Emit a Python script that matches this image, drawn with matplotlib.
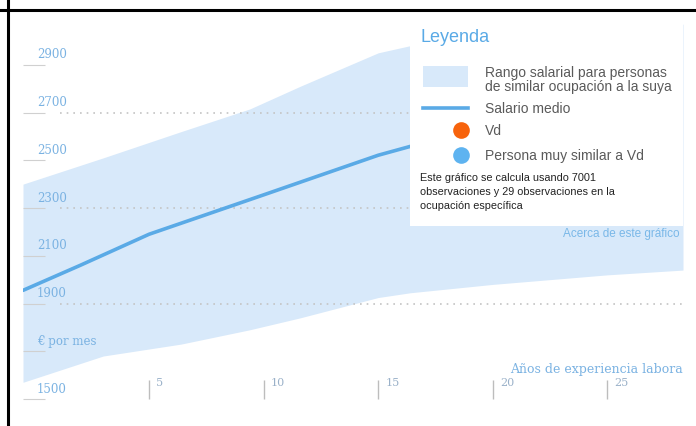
import numpy as np
import matplotlib
matplotlib.use("Agg")
import matplotlib.pyplot as plt
from matplotlib.patches import Rectangle
from matplotlib.lines import Line2D
from matplotlib.transforms import offset_copy

plt.rcParams['font.family'] = ['Liberation Sans', 'DejaVu Sans']

# years of experience and salary band (EUR per month)
years = [-0.5, 3, 6.4, 9.4, 11.6, 15, 16.4, 20, 25, 28.3]
upper = [2400, 2510, 2620, 2715, 2810, 2950, 2980, 3030, 3060, 3070]
lower = [1570, 1680, 1730, 1790, 1840, 1925, 1945, 1980, 2020, 2040]

mean_years = [-0.5, 2, 5, 10, 15, 16.4, 20, 25, 28.3]
mean_salary = [1955, 2060, 2190, 2355, 2521, 2558, 2620, 2680, 2700]

ytick_vals = [1500, 1700, 1900, 2100, 2300, 2500, 2700, 2900]
ytick_labels = ["1500", "€ por mes", "1900", "2100", "2300", "2500", "2700", "2900"]
grid_vals = [1900, 2300, 2700]
xtick_vals = [5, 10, 15, 20, 25]

band_c = "#d8e9fa"
line_c = "#5aaae6"
label_c = "#7ab2e2"

fig = plt.figure(figsize=(6.96, 4.27), dpi=100)
ax = fig.add_axes([23/696, 1 - 400/427, 660/696, 382/427])
ax.set_xlim(-0.5, 28.3)
ax.set_ylim(1500, 3100)
for s in ax.spines.values():
    s.set_visible(False)

ax.fill_between(years, lower, upper, color=band_c, lw=0, zorder=1)
for g in grid_vals:
    ax.axhline(g, xmin=0.056, color="#c4c4c4", ls=(0, (1, 3)), lw=1.2, zorder=2)
ax.plot(mean_years, mean_salary, color=line_c, lw=2.6, solid_capstyle='round', zorder=3)

# y axis: short ticks with labels sitting on top of them
ax.set_yticks(ytick_vals)
ax.tick_params(axis='y', direction='in', length=16, width=0.8, color="#d0d0d0", labelleft=False)
ax.set_xticks(xtick_vals)
ax.tick_params(axis='x', direction='in', length=14, width=1, color="#bdbdbd", labelbottom=False)
ytr = ax.get_yaxis_transform()
for v, l in zip(ytick_vals, ytick_labels):
    ax.text(0.021, v + 18, l, transform=ytr, fontsize=8.5, color=label_c,
            family=['DejaVu Serif'], va='bottom', ha='left', zorder=4)

xtr = offset_copy(ax.get_xaxis_transform(), fig=fig, x=7, y=0, units='dots')
for v in xtick_vals:
    ax.text(v, 0.045, str(v), transform=xtr, fontsize=8, color="#9ab1c9",
            family=['DejaVu Serif'], va='center', ha='left')

ax.text(0.738, 0.08, "Años de experiencia laboral", transform=ax.transAxes, fontsize=9,
        color=label_c, family=['DejaVu Serif'], va='center', ha='left', clip_on=True)

# legend box
ax.add_patch(Rectangle((0.586, 0.453), 0.414, 0.56, transform=ax.transAxes,
                       facecolor='white', edgecolor='none', zorder=5, clip_on=False))
ax.text(0.602, 0.948, "Leyenda", transform=ax.transAxes, fontsize=13, color=line_c,
        va='center', ha='left', zorder=6)
ax.add_patch(Rectangle((0.606, 0.817), 0.068, 0.055, transform=ax.transAxes,
                       facecolor=band_c, edgecolor='none', zorder=6))
ax.add_line(Line2D([0.606, 0.674], [0.762, 0.762], transform=ax.transAxes,
                   color=line_c, lw=2.6, zorder=6))
ax.plot([0.664], [0.703], 'o', ms=12, color="#f7630c", mec='none', transform=ax.transAxes, zorder=6)
ax.plot([0.664], [0.638], 'o', ms=12, color="#5eb3f0", mec='none', transform=ax.transAxes, zorder=6)
entries = [(0.838, "Rango salarial para personas\nde similar ocupación a la suya"),
           (0.762, "Salario medio"), (0.703, "Vd"), (0.638, "Persona muy similar a Vd")]
for y, t in entries:
    ax.text(0.700, y, t, transform=ax.transAxes, fontsize=10, color="#5a5a5a",
            va='center', ha='left', linespacing=1.05, zorder=6)
ax.text(0.602, 0.594, "Este gráfico se calcula usando 7001\nobservaciones y 29 observaciones en la\n"
        "ocupación específica", transform=ax.transAxes, fontsize=7.8, color="#222222",
        va='top', ha='left', linespacing=1.5, zorder=6)
ax.text(0.995, 0.435, "Acerca de este gráfico", transform=ax.transAxes, fontsize=8.5,
        color="#7ab8e8", va='center', ha='right', zorder=6)

# black frame lines of the surrounding table cell
fig.add_artist(Line2D([0, 1], [1 - 11/427, 1 - 11/427], color='black', lw=2.2))
fig.add_artist(Line2D([8/696, 8/696], [0, 1], color='black', lw=2.2))

fig.savefig("out.png", dpi=100)
